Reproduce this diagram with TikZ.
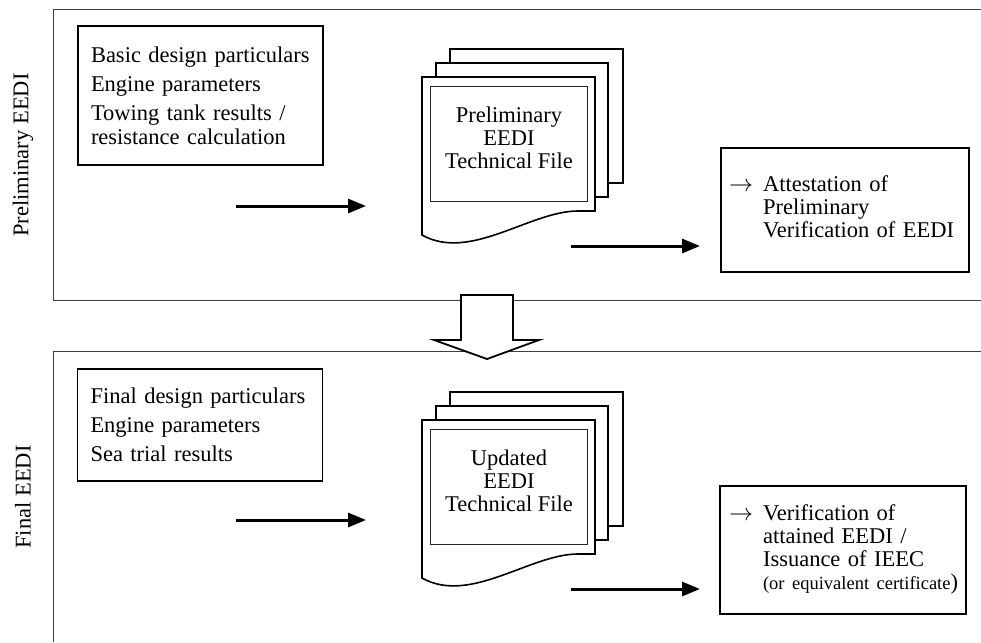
\documentclass[tikz,border=0pt]{standalone}
\usepackage{fontspec}
\usepackage{graphicx}
\setmainfont{Liberation Serif}
\usetikzlibrary{arrows.meta}
\newcommand\dgfont{\fontsize{22.5}{24}\selectfont}
\newcommand\dgsmall{\fontsize{18.5}{20}\selectfont}
\newcommand\dgarrow{\resizebox{24pt}{!}{$\rightarrow$}}
\newcommand\docstack[3]{%
  \begin{scope}[shift={(0,#1)}]
    \draw[sheet] (450,49) rectangle (623,183);
    \draw[sheet] (436,63) rectangle (608,197);
    \draw[sheet] (422,77) -- (595,77) -- (595,211) -- (578,211)
      .. controls (530,211) and (470,262) .. (422,235) -- cycle;
    \node[frame] (#2frame) at (508.5,143.5) {};
    \node[doctext] (#2) at (509,137.5) {#3};
  \end{scope}}
\begin{document}
\begin{tikzpicture}[x=1pt,y=-1pt,
  panel/.style={draw=black!75, line width=0.9pt},
  sheet/.style={draw, line width=1.6pt, fill=white},
  frame/.style={draw=black!85, line width=0.9pt, minimum width=157pt, minimum height=115pt, inner sep=0pt},
  doctext/.style={font=\fontsize{22.5}{23}\selectfont, align=center, inner sep=0pt},
  inbox/.style={draw, line width=1.8pt, align=left, inner xsep=13pt, inner ysep=0pt, text width=219pt, font=\dgfont},
  outbox/.style={draw, line width=1.8pt, align=left, inner ysep=0pt, font=\fontsize{22.5}{23}\selectfont},
  flow/.style={line width=3pt, -{Triangle[length=18pt,width=14pt]}},
  side/.style={rotate=90, font=\dgfont, inner sep=0pt},
  hollow/.style={draw, line width=1.8pt, fill=white, line join=miter}
]
\useasboundingbox (0,0) rectangle (981,642);
% panels
\draw[panel] (981,9) -- (53,9) -- (53,300) -- (981,300);
\draw[panel] (981,351.5) -- (53,351.5) -- (53,642);
\node[side] (lab1) at (23,155) {Preliminary EEDI};
\node[side] (lab2) at (23,497) {Final EEDI};
% input boxes
\node[inbox, minimum width=245pt, minimum height=139pt] (in1) at (200.5,95.5)
  {Basic design particulars\\[5pt]Engine parameters\\[5pt]Towing tank results /\\resistance calculation};
\node[inbox, minimum width=244pt, minimum height=112pt] (in2) at (200,425)
  {Final design particulars\\[5pt]Engine parameters\\[5pt]Sea trial results};
% document stacks
\docstack{0}{doc1}{Preliminary\\EEDI\\Technical File}
\docstack{343}{doc2}{Updated\\EEDI\\Technical File}
% output boxes
\node[outbox, inner xsep=8pt, text width=232pt, minimum height=124pt] (out1) at (845,210)
  {\begin{tabular}{@{}l@{\hspace{10pt}}l@{}}\dgarrow & Attestation of\\ & Preliminary\\ & Verification of EEDI\end{tabular}};
\node[outbox, inner xsep=9pt, text width=228pt, minimum height=128pt] (out2) at (843,550)
  {\begin{tabular}{@{}l@{\hspace{10pt}}l@{}}\dgarrow & Verification of\\ & attained EEDI /\\ & Issuance of IEEC\\ & {\dgsmall(or equivalent certificate})\end{tabular}};
% flow arrows
\coordinate (a1s) at (236,206); \coordinate (a1e) at (366,206);
\coordinate (a2s) at (571,246); \coordinate (a2e) at (700,246);
\coordinate (a3s) at (236,520); \coordinate (a3e) at (366,520);
\coordinate (a4s) at (571,589); \coordinate (a4e) at (700,589);
\draw[flow] (a1s) -- (a1e);
\draw[flow] (a2s) -- (a2e);
\draw[flow] (a3s) -- (a3e);
\draw[flow] (a4s) -- (a4e);
% hollow transition arrow
\draw[hollow] (461,295) -- (513,295) -- (513,340) -- (539,340) -- (487,359) -- (434,340) -- (461,340) -- cycle;
\end{tikzpicture}
\end{document}
